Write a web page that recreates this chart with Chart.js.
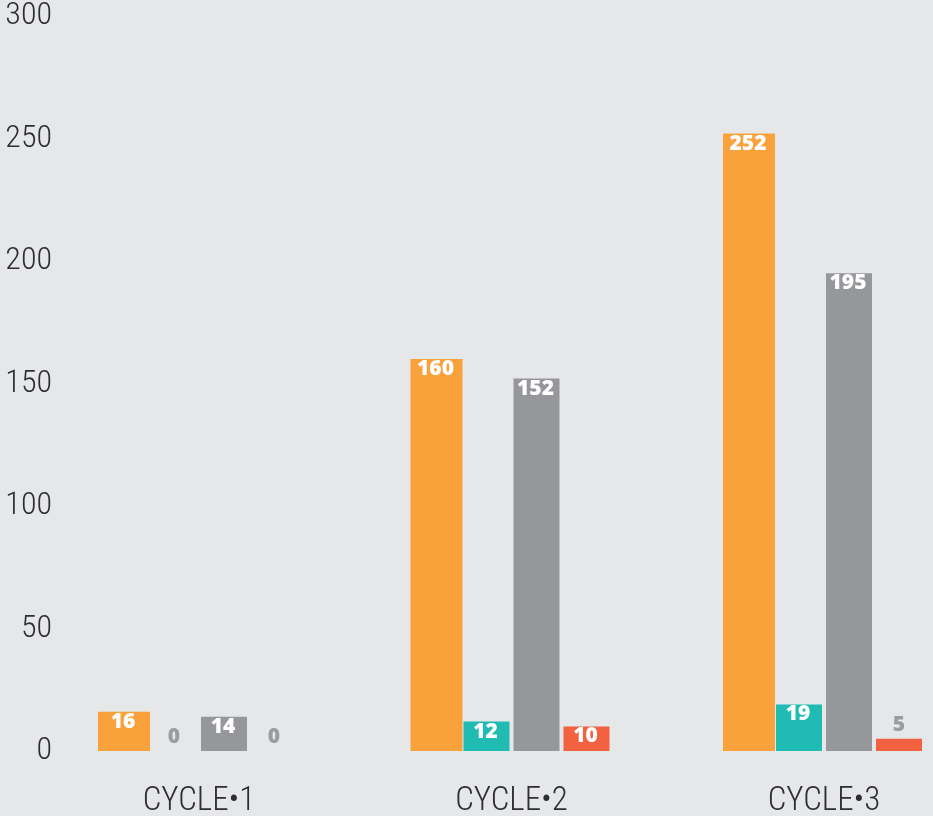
<!DOCTYPE html>
<html>
<head>
<meta charset="utf-8">
<script src="https://cdn.jsdelivr.net/npm/chart.js@4/dist/chart.umd.min.js"></script>
<style>
  html, body { margin: 0; padding: 0; background: #e6e7e9; }
  #wrap { width: 933px; height: 816px; }
</style>
</head>
<body>
<div id="wrap"><canvas id="c" width="933" height="816"></canvas></div>
<script>
const categories = ['CYCLE\u20221', 'CYCLE\u20222', 'CYCLE\u20223'];
const orangeValues = [16, 160, 252];
const tealValues = [0, 12, 19];
const grayValues = [14, 152, 195];
const redValues = [0, 10, 5];
const yTicks = [0, 50, 100, 150, 200, 250, 300];

const condensed = '"Roboto Condensed", "DejaVu Sans Condensed", sans-serif';

const valueLabels = {
  id: 'valueLabels',
  afterDatasetsDraw(chart) {
    const ctx = chart.ctx;
    ctx.save();
    ctx.font = '800 21px "Open Sans", "Lato", sans-serif';
    ctx.textAlign = 'center';
    ctx.textBaseline = 'middle';
    chart.data.datasets.forEach((ds, di) => {
      const meta = chart.getDatasetMeta(di);
      meta.data.forEach((bar, i) => {
        const v = ds.data[i];
        if (v >= 8) {
          ctx.fillStyle = '#ffffff';
          ctx.fillText(String(v), bar.x - 1, bar.y + 10);
        } else {
          ctx.fillStyle = '#9b9c9f';
          ctx.fillText(String(v), bar.x, bar.y - 14);
        }
      });
    });
    ctx.restore();
  }
};

new Chart(document.getElementById('c'), {
  type: 'bar',
  data: {
    labels: categories,
    datasets: [
      { label: 'A', data: orangeValues, backgroundColor: '#f9a13a', barPercentage: 1.04, categoryPercentage: 0.64, clip: false },
      { label: 'B', data: tealValues, backgroundColor: '#20bcb3', barPercentage: 0.92, categoryPercentage: 0.64, clip: false },
      { label: 'C', data: grayValues, backgroundColor: '#96979a', barPercentage: 0.92, categoryPercentage: 0.64, clip: false },
      { label: 'D', data: redValues, backgroundColor: '#f26140', barPercentage: 0.92, categoryPercentage: 0.64, clip: false }
    ]
  },
  options: {
    responsive: false,
    animation: false,
    layout: { padding: { top: 16, right: 109, left: 0, bottom: 0 } },
    plugins: { legend: { display: false }, tooltip: { enabled: false } },
    scales: {
      x: {
        type: 'category',
        offset: false,
        grid: { display: false, drawTicks: false, offset: false },
        border: { display: false },
        ticks: {
          color: '#2e2e30',
          font: { family: condensed, size: 33, weight: '300' },
          padding: 31,
          maxRotation: 0,
          autoSkip: false
        },
        afterFit(scale) { scale.height = 65; scale.paddingLeft = 0; scale.paddingRight = 0; }
      },
      y: {
        min: 0,
        max: 300,
        grid: { display: false, drawTicks: false },
        border: { display: false },
        afterBuildTicks(scale) { scale.ticks = yTicks.map(v => ({ value: v })); },
        ticks: {
          color: '#2e2e30',
          font: { family: condensed, size: 32, weight: '300' },
          padding: 147,
          labelOffset: 0
        },
        afterFit(scale) { scale.width = 199; scale.paddingTop = 0; scale.paddingBottom = 0; }
      }
    }
  },
  plugins: [valueLabels]
});
</script>
</body>
</html>
